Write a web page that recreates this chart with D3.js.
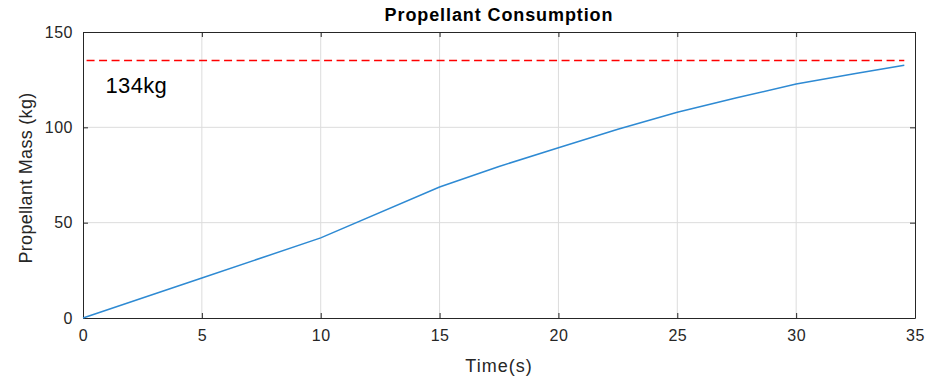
<!DOCTYPE html>
<html>
<head>
<meta charset="utf-8">
<script src="https://cdn.jsdelivr.net/npm/d3@7"></script>
<style>
  body { margin: 0; background: #fff; }
  text { font-family: "Liberation Sans", Arial, sans-serif; }
</style>
</head>
<body>
<div id="vis"></div>
<script>
// data
const time = [0, 5, 10, 15, 17.5, 20, 22.5, 25, 27.5, 30, 32.5, 34.55];
const mass = [0, 21, 42, 68.7, 79.5, 89.3, 99, 107.9, 115.5, 122.7, 128.2, 132.6];
const limitMass = 135;
const limitLabel = "134kg";
const xTicks = [0, 5, 10, 15, 20, 25, 30, 35];
const yTicks = [0, 50, 100, 150];

const FRAME_WIDTH = 938;
const FRAME_HEIGHT = 379;
const MARGINS = { left: 83, right: 23, top: 32, bottom: 61 };

const VIS_WIDTH = FRAME_WIDTH - MARGINS.left - MARGINS.right;
const VIS_HEIGHT = FRAME_HEIGHT - MARGINS.top - MARGINS.bottom;

const AXIS_COLOR = "#262626";

const svg = d3.select("#vis")
    .append("svg")
    .attr("width", FRAME_WIDTH)
    .attr("height", FRAME_HEIGHT);

const X_SCALE = d3.scaleLinear().domain([0, 35]).range([0, VIS_WIDTH]);
const Y_SCALE = d3.scaleLinear().domain([0, 150]).range([VIS_HEIGHT, 0]);

const plot = svg.append("g")
    .attr("transform", "translate(" + MARGINS.left + "," + MARGINS.top + ")");

// grid
plot.append("g")
    .selectAll("line")
    .data(xTicks.slice(1, -1))
    .enter()
    .append("line")
    .attr("x1", d => X_SCALE(d)).attr("x2", d => X_SCALE(d))
    .attr("y1", 0).attr("y2", VIS_HEIGHT)
    .attr("stroke", "#dcdcdc").attr("stroke-width", 1);

plot.append("g")
    .selectAll("line")
    .data(yTicks.slice(1, -1))
    .enter()
    .append("line")
    .attr("y1", d => Y_SCALE(d)).attr("y2", d => Y_SCALE(d))
    .attr("x1", 0).attr("x2", VIS_WIDTH)
    .attr("stroke", "#dcdcdc").attr("stroke-width", 1);

// axes (ticks inside, box on)
function styleAxis(g) {
    g.select(".domain").attr("stroke", AXIS_COLOR);
    g.selectAll(".tick line").attr("stroke", AXIS_COLOR);
    g.selectAll(".tick text")
        .attr("fill", AXIS_COLOR)
        .attr("font-size", "16px")
        .attr("letter-spacing", "0.5px");
}

plot.append("g")
    .attr("transform", "translate(0," + VIS_HEIGHT + ")")
    .call(d3.axisBottom(X_SCALE).tickValues(xTicks).tickSizeInner(-5).tickSizeOuter(0).tickPadding(12))
    .call(styleAxis);

plot.append("g")
    .call(d3.axisLeft(Y_SCALE).tickValues(yTicks).tickSizeInner(-5).tickSizeOuter(0).tickPadding(10))
    .call(styleAxis);

plot.append("g")
    .call(d3.axisTop(X_SCALE).tickValues(xTicks).tickSizeInner(-5).tickSizeOuter(0).tickFormat(""))
    .call(styleAxis);

plot.append("g")
    .attr("transform", "translate(" + VIS_WIDTH + ",0)")
    .call(d3.axisRight(Y_SCALE).tickValues(yTicks).tickSizeInner(-5).tickSizeOuter(0).tickFormat(""))
    .call(styleAxis);

// limit line
plot.append("line")
    .attr("x1", X_SCALE(0.15)).attr("x2", X_SCALE(34.55))
    .attr("y1", Y_SCALE(limitMass)).attr("y2", Y_SCALE(limitMass))
    .attr("stroke", "#ff0000")
    .attr("stroke-width", 1.5)
    .attr("stroke-dasharray", "8,4.5");

plot.append("text")
    .attr("x", X_SCALE(0.95))
    .attr("y", Y_SCALE(limitMass) + 32)
    .attr("font-size", "22px")
    .attr("letter-spacing", "0.3px")
    .attr("fill", "#000")
    .text(limitLabel);

// consumption line
const line = d3.line()
    .x((d, i) => X_SCALE(time[i]))
    .y(d => Y_SCALE(d));

plot.append("path")
    .datum(mass)
    .attr("d", line)
    .attr("fill", "none")
    .attr("stroke", "#2e8ad3")
    .attr("stroke-width", 1.5);

// titles
svg.append("text")
    .attr("x", MARGINS.left + VIS_WIDTH / 2)
    .attr("y", 21)
    .attr("text-anchor", "middle")
    .attr("font-size", "18px")
    .attr("font-weight", "bold")
    .attr("letter-spacing", "0.9px")
    .attr("fill", "#000")
    .text("Propellant Consumption");

svg.append("text")
    .attr("x", MARGINS.left + VIS_WIDTH / 2)
    .attr("y", 372)
    .attr("text-anchor", "middle")
    .attr("font-size", "18px")
    .attr("letter-spacing", "1px")
    .attr("fill", AXIS_COLOR)
    .text("Time(s)");

svg.append("text")
    .attr("transform", "translate(32," + (MARGINS.top + VIS_HEIGHT / 2 + 3) + ") rotate(-90)")
    .attr("text-anchor", "middle")
    .attr("font-size", "18px")
    .attr("letter-spacing", "0.3px")
    .attr("fill", AXIS_COLOR)
    .text("Propellant Mass (kg)");
</script>
</body>
</html>
